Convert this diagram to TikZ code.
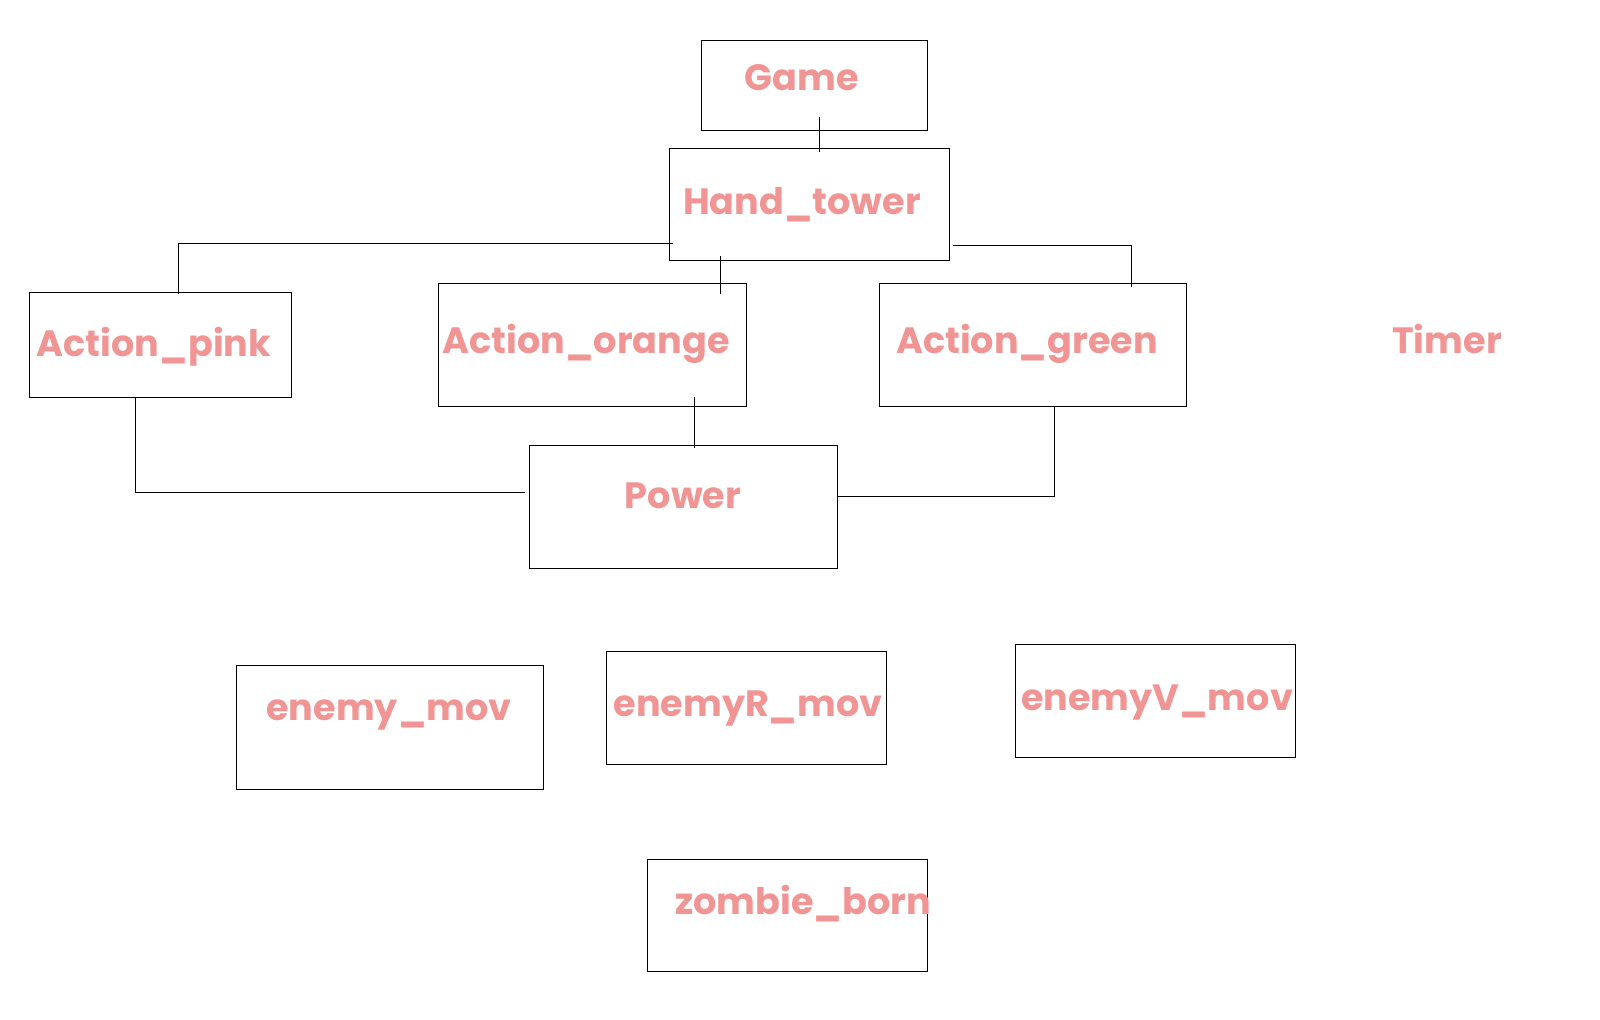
\documentclass[tikz,border=0pt]{standalone}
\usepackage{fontspec}
\setmainfont{Poppins}
\usepackage{tikz}
\usetikzlibrary{calc}
\usepackage{xcolor}
\definecolor{softpink}{RGB}{240,148,148}

\tikzset{
  box/.style={draw=black, line width=0.5pt, inner sep=0pt},
  boxtxt/.style={text=softpink, font=\bfseries\fontsize{18.3}{22}\selectfont, inner sep=0pt, anchor=base},
  wire/.style={line width=0.5pt}
}

\begin{document}
\begin{tikzpicture}[x=0.5pt, y=-0.5pt]
  \useasboundingbox (0,0) rectangle (1600,1020);
  % boxes: name / centre x / centre y / width / height (pixels)
  \foreach \n/\x/\y/\w/\h in {game/814/86/226/90, hand/809/205/280/112,
      pink/160/345.5/262/105, orange/592/345.5/308/123, green/1032.5/345.5/307/123,
      power/683/507.5/308/123, enemy/389.5/727.5/307/123, enemyR/746/708/280/112,
      enemyV/1155/701/280/112, zombie/787/915/280/112} {
    \node[box, minimum width=\w*0.5pt, minimum height=\h*0.5pt] (\n) at (\x,\y) {};
  }
  % labels (placed on their baselines)
  \node[boxtxt] (gameTxt) at (802,91) {Game};
  \node[boxtxt] (handTxt) at (802,215) {Hand\_tower};
  \node[boxtxt] (pinkTxt) at (154,357) {Action\_pink};
  \node[boxtxt] (orangeTxt) at (586,354) {Action\_orange};
  \node[boxtxt] (greenTxt) at (1027,354) {Action\_green};
  \node[boxtxt] (timerTxt) at (1447,354) {Timer};
  \node[boxtxt] (powerTxt) at (683,509) {Power};
  \node[boxtxt] (enemyTxt) at (389,720) {enemy\_mov};
  \node[boxtxt] (enemyRTxt) at (748,716) {enemyR\_mov};
  \node[boxtxt] (enemyVTxt) at (1157,711) {enemyV\_mov};
  \node[boxtxt] (zombieTxt) at (803,914) {zombie\_born};
  % connectors
  \draw[wire] ([xshift=2.5pt,yshift=7pt]game.south) -- ([xshift=5pt,yshift=-2pt]hand.north);
  \draw[wire] ([xshift=2pt,yshift=-19.5pt]hand.west) -| ([xshift=9pt,yshift=-1pt]pink.north);
  \draw[wire] ([xshift=-44.5pt,yshift=2.5pt]hand.south) -- ([xshift=64pt,yshift=-5.5pt]orange.north);
  \draw[wire] ([xshift=1.5pt,yshift=-20.5pt]hand.east) -| ([xshift=49.5pt,yshift=-2pt]green.north);
  \draw[wire] ([xshift=-12.5pt]pink.south) |- ([xshift=-2pt,yshift=7.5pt]power.west);
  \draw[wire] ([xshift=51pt,yshift=5pt]orange.south) -- ([xshift=5.5pt,yshift=-1.5pt]power.north);
  \draw[wire] ([xshift=11pt,yshift=0.5pt]green.south) |- ([yshift=5.5pt]power.east);
\end{tikzpicture}
\end{document}
